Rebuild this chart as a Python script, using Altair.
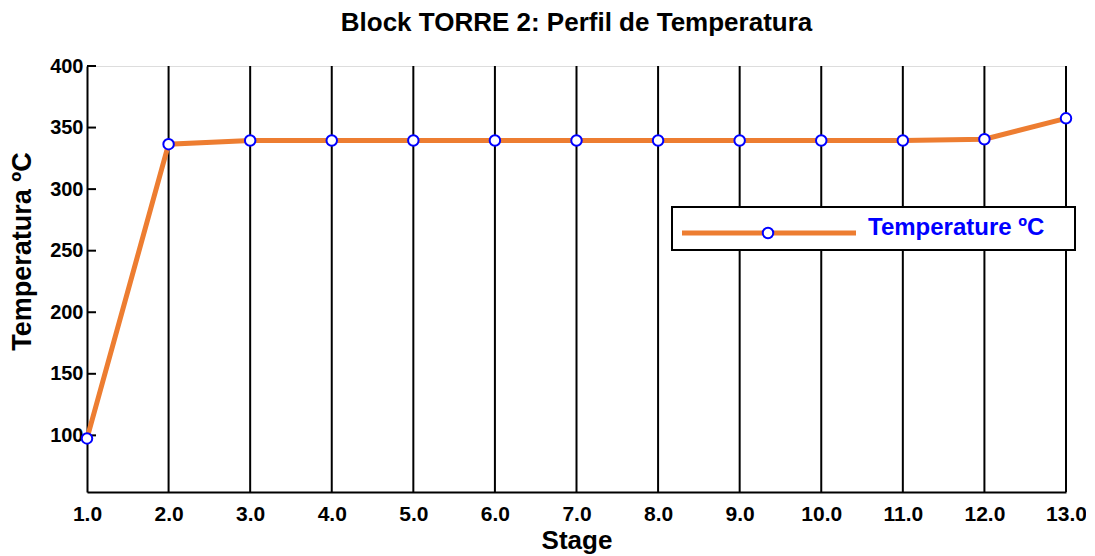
import altair as alt
import pandas as pd

stages = [1, 2, 3, 4, 5, 6, 7, 8, 9, 10, 11, 12, 13]
temps = [97.5, 336.5, 339.5, 339.5, 339.5, 339.5, 339.5, 339.5, 339.5, 339.5, 339.5, 340.5, 357.5]
y_ticks = [100, 150, 200, 250, 300, 350, 400]
grid_stages = [2, 3, 4, 5, 6, 7, 8, 9, 10, 11, 12, 13]
series_name = "Temperature ºC"

df = pd.DataFrame({"Stage": stages, "Temp": temps})
grid_df = pd.DataFrame({"Stage": grid_stages})
ytick_df = pd.DataFrame({"Temp": y_ticks})

W, H = 979, 426
FONT = "Liberation Sans"

xs = alt.Scale(domain=[1, 13], nice=False, zero=False)
ys = alt.Scale(domain=[54, 400], nice=False, zero=False)

xaxis = alt.Axis(values=stages, format=".1f", title="Stage", grid=False,
                 labelFontSize=21, labelFontWeight="bold", labelColor="black",
                 labelFlush=False, labelOverlap=False,
                 titleFontSize=26, titleFontWeight="bold", titleColor="black",
                 domainColor="black", domainWidth=2, tickColor="black", tickWidth=2,
                 tickSize=0, labelPadding=11, titlePadding=3, labelFont=FONT, titleFont=FONT)
yaxis = alt.Axis(values=y_ticks, title="Temperatura ºC", grid=False,
                 labelFontSize=20, labelFontWeight="bold", labelColor="black",
                 labelFlush=False, labelOverlap=False,
                 titleFontSize=27, titleFontWeight="bold", titleColor="black",
                 titleX=-65, titleY=185, titleAlign="center", titleBaseline="middle",
                 titleAngle=270,
                 domainColor="black", domainWidth=2, ticks=False,
                 labelPadding=4, labelFont=FONT, titleFont=FONT)

grid = alt.Chart(grid_df).mark_rule(color="black", strokeWidth=2).encode(
    x=alt.X("Stage:Q", scale=xs, axis=xaxis),
    y=alt.value(0), y2=alt.value(H),
)

yticks = alt.Chart(ytick_df).mark_rule(color="black", strokeWidth=2).encode(
    y=alt.Y("Temp:Q", scale=ys, axis=yaxis),
    x=alt.value(0), x2=alt.value(9),
)

line = alt.Chart(df).mark_line(color="#ED7D31", strokeWidth=5).encode(
    x=alt.X("Stage:Q", scale=xs, axis=xaxis),
    y=alt.Y("Temp:Q", scale=ys, axis=yaxis),
)

points = alt.Chart(df).mark_point(shape="circle", size=110, filled=True, fill="white",
                                  stroke="#0000FF", strokeWidth=2, opacity=1).encode(
    x=alt.X("Stage:Q", scale=xs, axis=xaxis),
    y=alt.Y("Temp:Q", scale=ys, axis=yaxis),
)

# legend (decoration)
leg_df = pd.DataFrame({"label": [series_name]})
lx0, ly0 = 672 - 87, 207 - 66
leg_box = alt.Chart(leg_df).mark_rect(fill="white", stroke="black", strokeWidth=2).encode(
    x=alt.value(lx0), x2=alt.value(lx0 + 403), y=alt.value(ly0), y2=alt.value(ly0 + 43))
leg_line = alt.Chart(leg_df).mark_rule(color="#ED7D31", strokeWidth=5).encode(
    x=alt.value(lx0 + 10), x2=alt.value(lx0 + 184), y=alt.value(ly0 + 26))
leg_pt = alt.Chart(leg_df).mark_point(shape="circle", size=110, filled=True, fill="white",
                                      stroke="#0000FF", strokeWidth=2, opacity=1).encode(
    x=alt.value(lx0 + 96), y=alt.value(ly0 + 26))
leg_txt = alt.Chart(leg_df).mark_text(align="left", baseline="middle", font=FONT,
                                      fontSize=24, fontWeight="bold", color="#0000FF").encode(
    x=alt.value(lx0 + 196), y=alt.value(ly0 + 21), text="label:N")

chart = alt.layer(grid, yticks, line, points, leg_box, leg_line, leg_pt, leg_txt).properties(
    width=W, height=H,
    title=alt.TitleParams("Block TORRE 2: Perfil de Temperatura", font=FONT, fontSize=26,
                          fontWeight="bold", color="black", anchor="middle", offset=20),
    autosize=alt.AutoSizeParams(type="none"),
    padding={"left": 79, "top": 58, "right": 20, "bottom": 64},
).configure_view(stroke=None).configure(background="white")

chart.save("out.html", embed_options={"renderer": "svg", "actions": False})
